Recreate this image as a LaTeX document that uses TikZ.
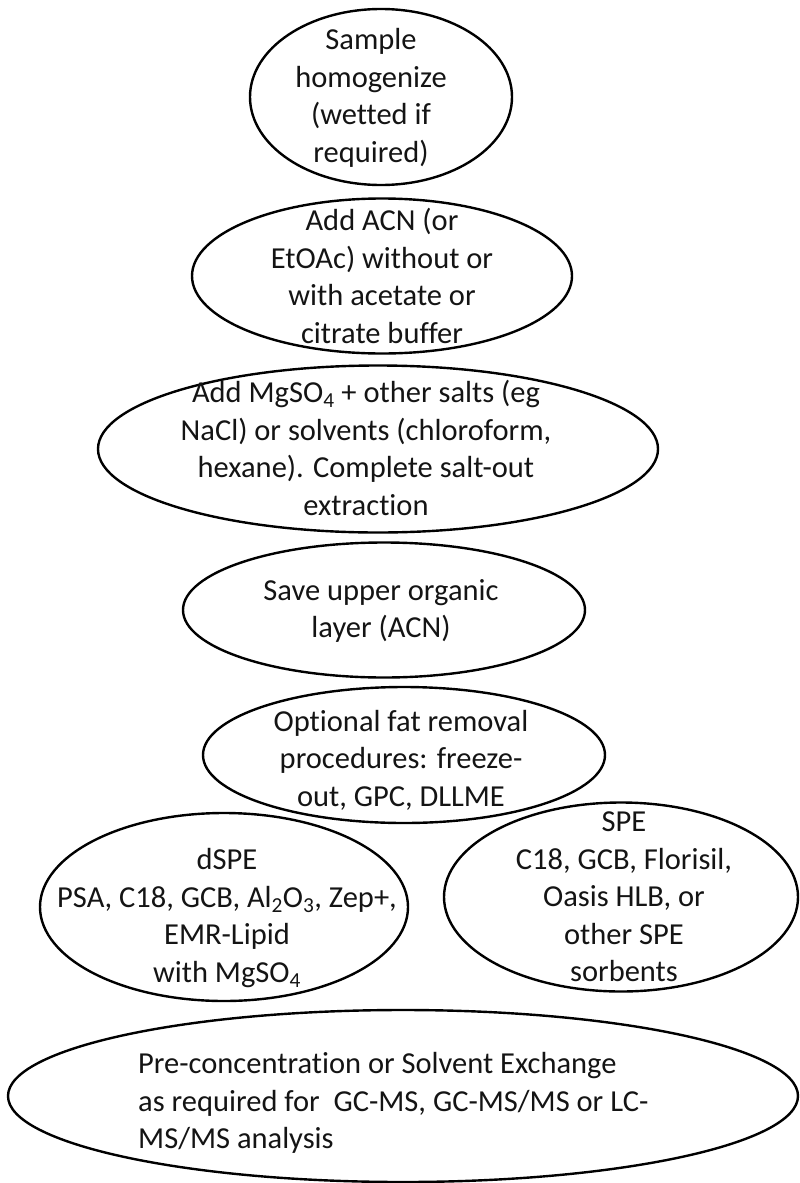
\documentclass[tikz,border=0pt]{standalone}
\usepackage{fontspec}
\setmainfont[RawFeature={-liga;-clig;-calt;-dlig}]{Carlito}
\usetikzlibrary{shapes.geometric}

\tikzset{
  stage/.style={ellipse, draw=black, line width=2.4pt, inner sep=0pt},
  label/.style={align=center, inner sep=0pt, text=black!92,
    font=\fontsize{30.5}{37.5}\selectfont},
  labelleft/.style={label, align=left}
}
\newcommand{\sub}[1]{\textsubscript{#1}}

\begin{document}
\begin{tikzpicture}[x=1pt, y=-1pt]
  \useasboundingbox (0,0) rectangle (800,1183);

  % outlines of the process stages
  \node[stage, minimum width=262pt, minimum height=176pt] (e1) at (381,97) {};
  \node[stage, minimum width=380pt, minimum height=155pt] (e2) at (382,276) {};
  \node[stage, minimum width=560pt, minimum height=167pt] (e3) at (378,449) {};
  \node[stage, minimum width=402pt, minimum height=135pt] (e4) at (384,610) {};
  \node[stage, minimum width=402pt, minimum height=136pt] (e5) at (404,755) {};
  \node[stage, minimum width=368pt, minimum height=188pt] (e6) at (224,907) {};
  \node[stage, minimum width=354pt, minimum height=189pt] (e7) at (621,897) {};
  \node[stage, minimum width=790pt, minimum height=172pt] (e8) at (403,1096) {};

  % stage texts
  \node[label] (t1) at (371,98) {Sample\\homogenize\\(wetted if\\required)};
  \node[label] (t2) at (382,276) {Add ACN (or\\EtOAc) without or\\with acetate or\\citrate buffer};
  \node[label] (t3) at (366,448) {Add MgSO\sub{4} + other salts (eg\\NaCl) or solvents (chloroform,\\hexane). Complete salt-out\\extraction};
  \node[label] (t4) at (381,611) {Save upper organic\\layer (ACN)};
  \node[label] (t5) at (401,760) {Optional fat removal\\procedures: freeze-\\out, GPC, DLLME};
  \node[label] (t6) at (227,918) {dSPE\\PSA, C18, GCB, Al\sub{2}O\sub{3}, Zep+,\\EMR-Lipid\\with MgSO\sub{4}};
  \node[label] (t7) at (624,897) {SPE\\C18, GCB, Florisil,\\Oasis HLB, or\\other SPE\\sorbents};
  \node[labelleft, anchor=west] (t8) at (138,1103) {Pre-concentration or Solvent Exchange\\as required for\ \ GC-MS, GC-MS/MS or LC-\\MS/MS analysis};
\end{tikzpicture}
\end{document}
